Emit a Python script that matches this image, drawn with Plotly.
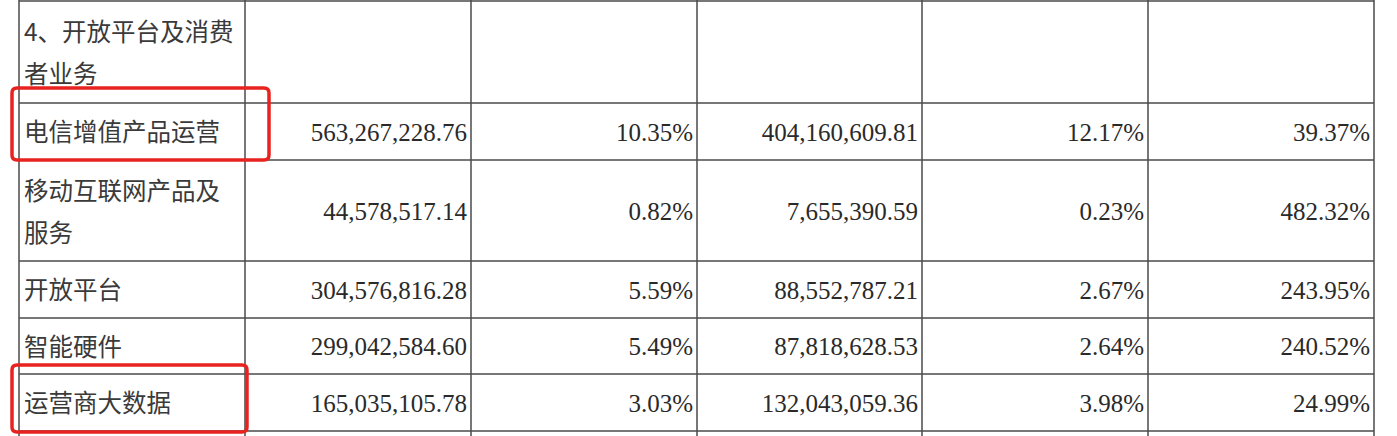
import plotly.graph_objects as go

# ---- data ----
categories = ["4、开放平台及消费<br>者业务", "电信增值产品运营", "移动互联网产品及<br>服务",
              "开放平台", "智能硬件", "运营商大数据"]
revenue_2018 = ["", "563,267,228.76", "44,578,517.14", "304,576,816.28", "299,042,584.60", "165,035,105.78"]
share_2018 = ["", "10.35%", "0.82%", "5.59%", "5.49%", "3.03%"]
revenue_2017 = ["", "404,160,609.81", "7,655,390.59", "88,552,787.21", "87,818,628.53", "132,043,059.36"]
share_2017 = ["", "12.17%", "0.23%", "2.67%", "2.64%", "3.98%"]
growth = ["", "39.37%", "482.32%", "243.95%", "240.52%", "24.99%"]
highlighted = [1, 5]  # rows boxed in red

# ---- geometry (pixels) ----
W, H = 1397, 436
col_edges = [19, 245, 471, 697, 922, 1148, 1374]
row_edges = [1, 103, 160, 261, 318, 374, 431]
line_color = "#4a4a4a"
text_color = "#2a2a2a"
label_color = "#3a3a3a"

fig = go.Figure()

# label text (left aligned, possibly multi-line with wider spacing)
lx, ly, lt = [], [], []
for i, cat in enumerate(categories):
    parts = cat.split("<br>")
    mid = (row_edges[i] + row_edges[i + 1]) / 2
    if len(parts) == 1:
        lx.append(col_edges[0] + 5); ly.append(mid + 3.5); lt.append(parts[0])
    else:
        for j, p in enumerate(parts):
            lx.append(col_edges[0] + 5); ly.append(mid - 17 + 42 * j); lt.append(p)
fig.add_trace(go.Scatter(x=lx, y=ly, text=lt, mode="text", textposition="middle right",
                         textfont=dict(family="Noto Sans CJK SC", size=24.5, color=label_color),
                         hoverinfo="skip", showlegend=False))

# numeric columns (right aligned)
columns = [revenue_2018, share_2018, revenue_2017, share_2017, growth]
nx, ny, nt = [], [], []
for c, col in enumerate(columns):
    for i, v in enumerate(col):
        if not v:
            continue
        mid = (row_edges[i] + row_edges[i + 1]) / 2
        nx.append(col_edges[c + 2] - 4); ny.append(mid + 3); nt.append(v)
fig.add_trace(go.Scatter(x=nx, y=ny, text=nt, mode="text", textposition="middle left",
                         textfont=dict(family="Liberation Serif", size=25, color=text_color),
                         hoverinfo="skip", showlegend=False))

shapes = []
for xe in col_edges:
    shapes.append(dict(type="line", x0=xe, x1=xe, y0=0, y1=H, line=dict(color=line_color, width=1.5)))
for ye in row_edges:
    shapes.append(dict(type="line", x0=col_edges[0], x1=col_edges[-1], y0=ye, y1=ye,
                       line=dict(color=line_color, width=1.5)))

# red highlight boxes with rounded corners
boxes = {1: (12, 269, 88, 160), 5: (12, 247, 365, 432)}
def rounded(x0, x1, y0, y1, r=5):
    return (f"M {x0+r},{y0} L {x1-r},{y0} Q {x1},{y0} {x1},{y0+r} L {x1},{y1-r} "
            f"Q {x1},{y1} {x1-r},{y1} L {x0+r},{y1} Q {x0},{y1} {x0},{y1-r} "
            f"L {x0},{y0+r} Q {x0},{y0} {x0+r},{y0} Z")
for r in highlighted:
    x0, x1, y0, y1 = boxes[r]
    shapes.append(dict(type="path", path=rounded(x0, x1, y0, y1),
                       line=dict(color="#e8231f", width=3.5), fillcolor="rgba(0,0,0,0)"))

fig.update_layout(
    width=W, height=H, margin=dict(l=0, r=0, t=0, b=0),
    paper_bgcolor="white", plot_bgcolor="white", shapes=shapes,
    xaxis=dict(range=[0, W], visible=False, fixedrange=True),
    yaxis=dict(range=[H, 0], visible=False, fixedrange=True),
)
fig.write_html("out.html", config={"displayModeBar": False},
               post_script="document.body.style.margin='0';document.body.style.overflow='hidden';")
